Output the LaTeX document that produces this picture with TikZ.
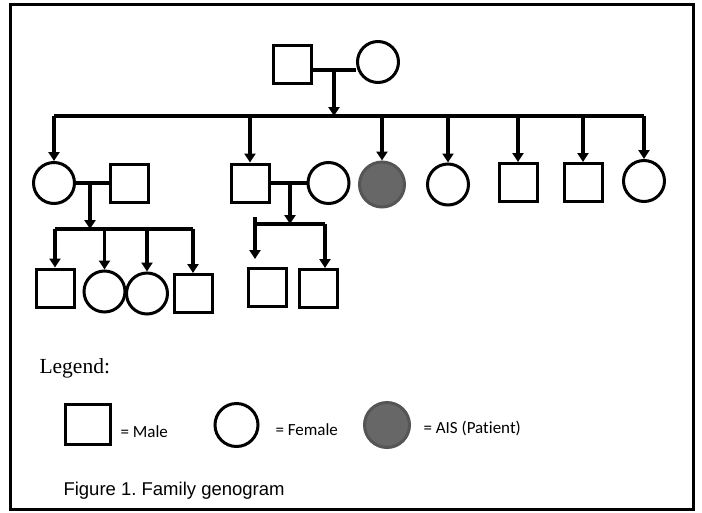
\documentclass[tikz,border=0pt]{standalone}
\usepackage{fontspec}
\newfontfamily\legendfont{Liberation Serif}
\newfontfamily\captfont{Liberation Sans}
\newfontfamily\keyfont[Ligatures=NoCommon]{Carlito}
\usetikzlibrary{arrows.meta, positioning, calc}
\definecolor{patient}{HTML}{676767}
\definecolor{patientedge}{HTML}{555555}
\frenchspacing

\begin{document}
\begin{tikzpicture}[x=1pt, y=-1pt,
    male/.style={draw, rectangle, minimum size=38pt, line width=3pt, inner sep=0pt},
    female/.style={draw, circle, minimum size=41pt, line width=3pt, inner sep=0pt},
    ais/.style={female, draw=patientedge, fill=patient},
    link/.style={line width=3.2pt},
    arr/.style={-{Triangle[length=9pt, width=11pt]}, line width=3.2pt},
    keytxt/.style={anchor=base west, font=\keyfont\fontsize{17}{20}\selectfont},
]
\useasboundingbox (0,0) rectangle (702,512);

% Frame
\draw[line width=3.2pt] (10.5,4.5) rectangle (693.5,509.5);

% --- Parents ---
\node[male] (gf) at (292,64) {};
\node[female] (gm) at (378,62) {};
\draw[link] ([yshift=-6pt]gf.east) -- ([yshift=-6pt]gf.east -| gm.west);
\coordinate (gp) at (334,70);
\coordinate (sib) at (0,116);

% --- Children ---
\node[female] (c1) at (54,183) {};
\node[male] (c1h) at (129.5,183) {};
\node[male] (c2) at (250,183) {};
\node[female] (c2w) at (328.5,183) {};
\node[ais, minimum size=45pt] (pt) at (382,184.5) {};
\node[female] (c4) at (448,184.5) {};
\node[male] (c5) at (518,182.5) {};
\node[male] (c6) at (583,182.5) {};
\node[female] (c7) at (644,181) {};

\draw[arr] (gp) -- (gp |- sib);
\draw[link] (c1 |- sib) -- (c7 |- sib);
\foreach \k in {c1,c2,pt,c4,c5,c6,c7}
  \draw[arr] (\k |- sib) -- (\k.north);

% --- Left family ---
\draw[link] (c1.east) -- (c1h.west);
\coordinate (m1) at (90,183);
\coordinate (sib1) at (0,229);
\node[male] (g1) at (55,288) {};
\node[female] (g2) at (104.5,291.5) {};
\node[female] (g3) at (147,293.5) {};
\node[male] (g4) at (193,293.5) {};
\draw[arr] (m1) -- (m1 |- sib1);
\draw[link] (g1 |- sib1) -- (g4 |- sib1);
\foreach \g in {g1,g2,g3,g4}
  \draw[arr] (\g |- sib1) -- (\g.north);

% --- Middle family ---
\draw[link] (c2.east) -- (c2w.west);
\coordinate (m2) at (290,183);
\coordinate (s2top) at (255,217);
\coordinate (s2a) at (255,224);
\coordinate (s2b) at (325,224);
\node[male] (g5) at (267.5,287.5) {};
\node[male] (g6) at (318.5,288.5) {};
\draw[arr] (m2) -- (m2 |- s2a);
\draw[link] (s2a) -- (s2b);
\draw[arr] (s2top) -- ([yshift=8pt]g5.north -| s2top);
\draw[arr] (s2b) -- (g6.north -| s2b);

% --- Legend ---
\node[anchor=base west, font=\legendfont\fontsize{21.5}{24}\selectfont] (leg) at (36,373) {Legend:};
\node[male, minimum width=45pt, minimum height=40pt, line width=3.4pt] (kmale) at (88,424.5) {};
\node[keytxt] (kmaletxt) at (117,437) {= Male};
\node[female, minimum size=43pt] (kfem) at (236.5,425) {};
\node[keytxt] (kfemtxt) at (272,435) {= Female};
\node[ais, minimum size=45pt] (kais) at (387,425) {};
\node[keytxt] (kaistxt) at (420,433) {= AIS (Patient)};

% Caption
\node[anchor=base west, font=\captfont\fontsize{18.5}{22}\selectfont] (cap) at (60,495) {Figure 1. Family genogram};

\end{tikzpicture}
\end{document}
